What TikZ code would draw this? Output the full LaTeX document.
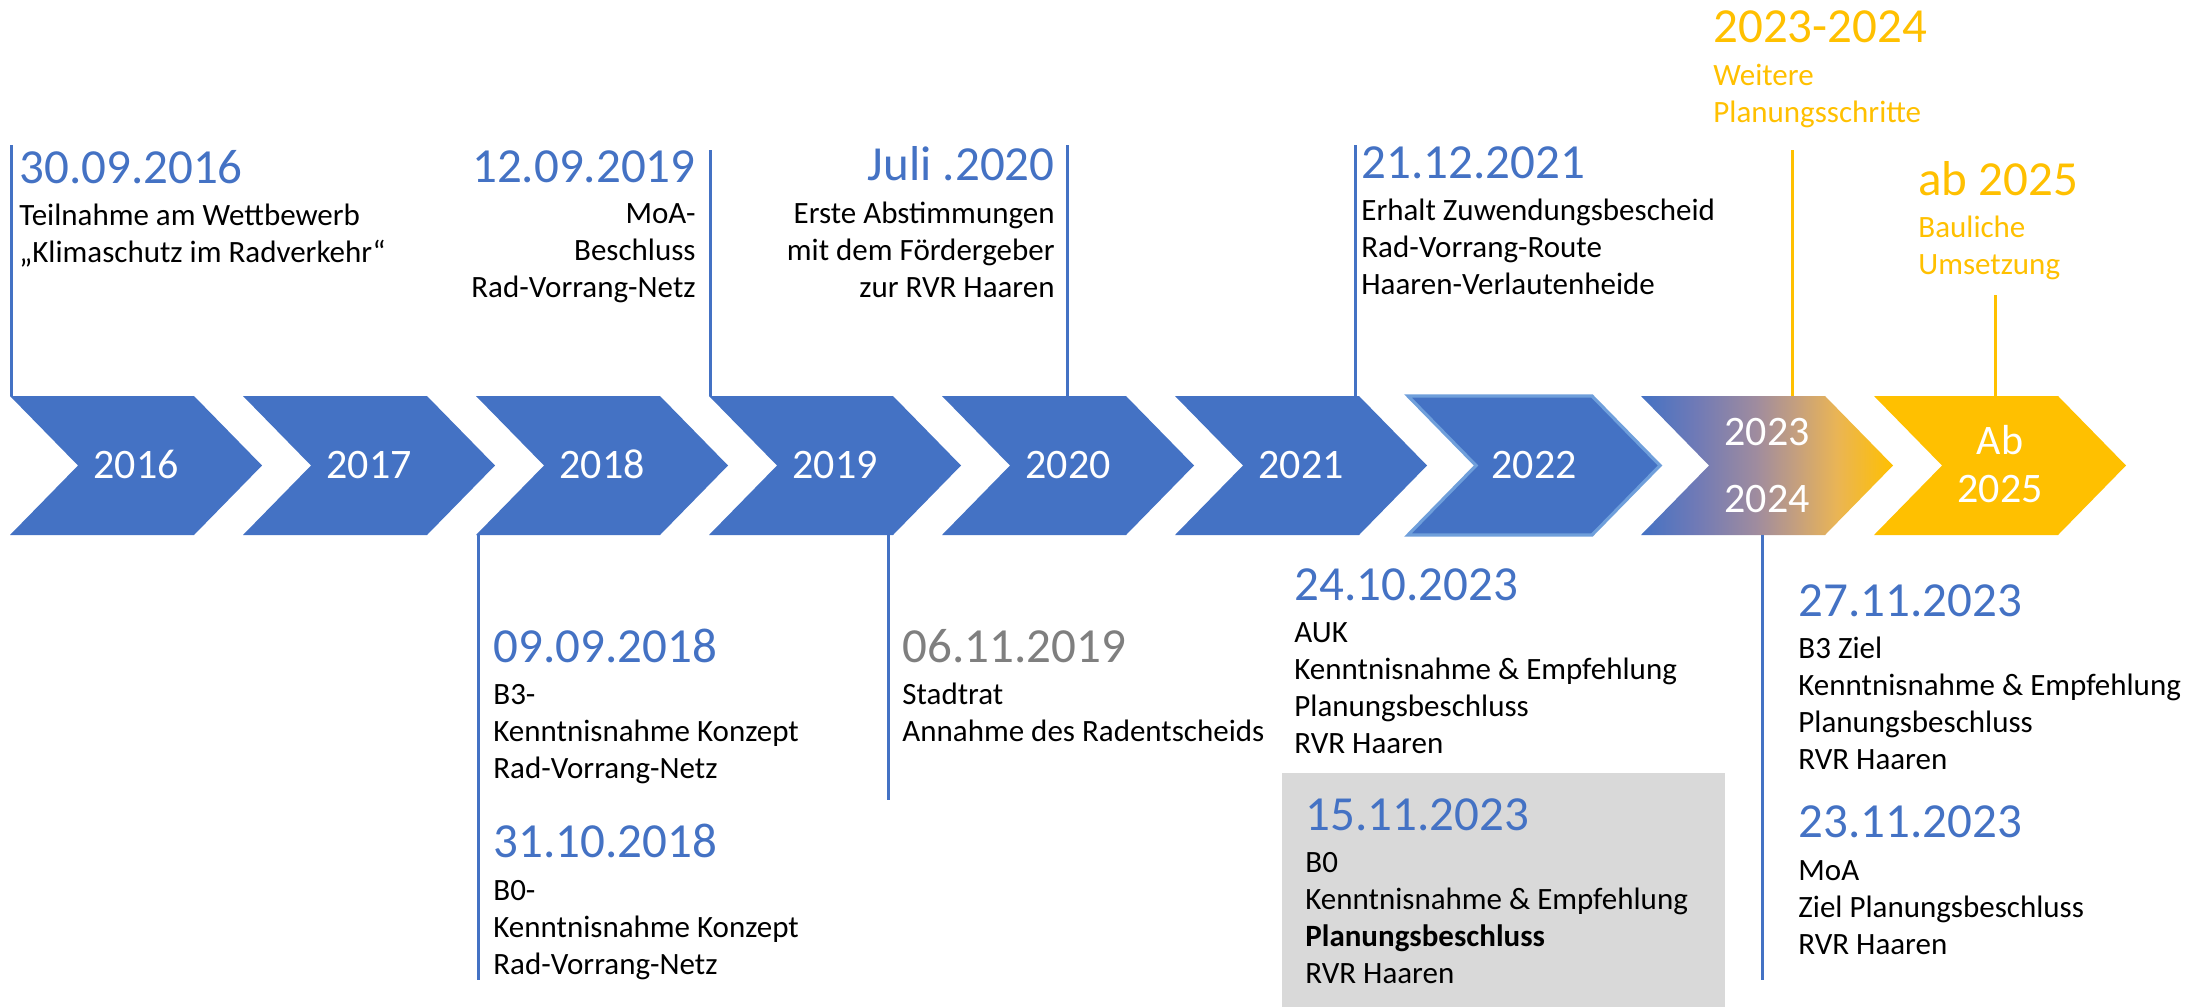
\documentclass[tikz,border=0pt]{standalone}
\usepackage{fontspec}
\setmainfont{Carlito}
\definecolor{tlblue}{HTML}{4472C4}
\definecolor{tlgold}{HTML}{FFC000}
\definecolor{tlgray}{HTML}{7F7F7F}
\definecolor{tlbox}{HTML}{D9D9D9}
\definecolor{tlborder}{HTML}{6F9FDB}
\definecolor{tlgA}{RGB}{112,122,182}
\definecolor{tlgB}{RGB}{160,140,158}
\definecolor{tlgC}{RGB}{198,160,125}
\definecolor{tlgD}{RGB}{234,181,84}
\pgfdeclarehorizontalshading{tlgrad}{100bp}{color(0bp)=(tlblue); color(25bp)=(tlblue); color(36bp)=(tlgA); color(48bp)=(tlgB); color(56bp)=(tlgC); color(64bp)=(tlgD); color(75bp)=(tlgold); color(100bp)=(tlgold)}
\newcommand\tlL[1]{\vtop{\baselineskip=18.5pt\lineskip=0pt\lineskiplimit=-100pt\halign{##\hfil\cr#1\crcr}}}
\newcommand\tlR[1]{\vtop{\baselineskip=18.5pt\lineskip=0pt\lineskiplimit=-100pt\halign{\hfil##\cr#1\crcr}}}
\newcommand\tlchevron[2]{\path[#2] (#1,396) -- ++(184,0) -- ++(68,69.5) -- ++(-68,69.5) -- ++(-184,0) -- ++(68,-69.5) -- cycle;}
\tikzset{
  datetext/.style={inner sep=0pt, font=\fontsize{24.5}{29}\selectfont, text=tlblue},
  bodytext/.style={inner sep=0pt, font=\fontsize{15.5}{18.5}\selectfont, text=black},
  yeartext/.style={inner sep=0pt, font=\fontsize{21}{25}\selectfont, text=white, anchor=base},
  vline/.style={line width=1.5pt, draw=tlblue},
  gline/.style={line width=1.5pt, draw=tlgold},
}
\begin{document}
\begin{tikzpicture}[x=0.5pt,y=-0.5pt]
\useasboundingbox (0,0) rectangle (2185,1007);
\fill[white] (0,0) rectangle (2185,1007);
% highlighted box
\fill[tlbox] (1282,773) rectangle (1725,1007);
% chevrons
\foreach \lx in {10,243,476,709,942,1175} {\tlchevron{\lx}{fill=tlblue}}
\tlchevron{1408}{fill=tlblue, draw=tlborder, line width=1.6pt, line join=miter}
\tlchevron{1641}{shading=tlgrad}
\tlchevron{1874}{fill=tlgold}
% year labels
\node[yeartext] (y2016) at (136,478) {2016};
\node[yeartext] (y2017) at (369,478) {2017};
\node[yeartext] (y2018) at (602,478) {2018};
\node[yeartext] (y2019) at (835,478) {2019};
\node[yeartext] (y2020) at (1068,478) {2020};
\node[yeartext] (y2021) at (1301,478) {2021};
\node[yeartext] (y2022) at (1534,478) {2022};
\node[yeartext] (y2023) at (1767,445) {2023};
\node[yeartext] (y2024) at (1767,512) {2024};
\node[yeartext] (yab) at (2000,454) {Ab};
\node[yeartext] (y2025) at (2000,502) {2025};
% connector end points
\coordinate (t1) at (11,145);  \coordinate (c1) at (11,396);
\coordinate (t2) at (710,150); \coordinate (c2) at (710,396);
\coordinate (t3) at (1067,145); \coordinate (c3) at (1067,396);
\coordinate (t4) at (1355,145); \coordinate (c4) at (1355,396);
\coordinate (t5) at (1792,150); \coordinate (c5) at (1792,396);
\coordinate (t6) at (1995,295); \coordinate (c6) at (1995,396);
\coordinate (u1) at (478,535); \coordinate (e1) at (478,980);
\coordinate (u2) at (888,535); \coordinate (e2) at (888,800);
\coordinate (u3) at (1762,535); \coordinate (e3) at (1762,980);
\draw[vline] (t1) -- (c1);
\draw[vline] (t2) -- (c2);
\draw[vline] (t3) -- (c3);
\draw[vline] (t4) -- (c4);
\draw[gline] (t5) -- (c5);
\draw[gline] (t6) -- (c6);
\draw[vline] (u1) -- (e1);
\draw[vline] (u2) -- (e2);
\draw[vline] (u3) -- (e3);
% top events
\node[datetext, anchor=base west] (d1) at (19,183) {30.09.2016};
\node[bodytext, anchor=base west] (b1) at (19,225) {\tlL{Teilnahme am Wettbewerb\cr „Klimaschutz im Radverkehr“}};
\node[datetext, anchor=base east] (d2) at (696,182) {12.09.2019};
\node[bodytext, anchor=base east] (b2) at (696,223) {\tlR{MoA-\cr Beschluss\cr Rad-Vorrang-Netz}};
\node[datetext, anchor=base east] (d3) at (1055,180) {Juli .2020};
\node[bodytext, anchor=base east] (b3) at (1055,223) {\tlR{Erste Abstimmungen\cr mit dem Fördergeber\cr zur RVR Haaren}};
\node[datetext, anchor=base west] (d4) at (1361,178) {21.12.2021};
\node[bodytext, anchor=base west] (b4) at (1361,220) {\tlL{Erhalt Zuwendungsbescheid\cr Rad-Vorrang-Route\cr Haaren-Verlautenheide}};
\node[datetext, text=tlgold, anchor=base west] (d5) at (1713,42) {2023-2024};
\node[bodytext, text=tlgold, anchor=base west] (b5) at (1713,85) {\tlL{Weitere\cr Planungsschritte}};
\node[datetext, text=tlgold, anchor=base west] (d6) at (1918,195) {ab 2025};
\node[bodytext, text=tlgold, anchor=base west] (b6) at (1918,237) {\tlL{Bauliche\cr Umsetzung}};
% bottom events
\node[datetext, anchor=base west] (d7) at (493,662) {09.09.2018};
\node[bodytext, anchor=base west] (b7) at (493,704) {\tlL{B3-\cr Kenntnisnahme Konzept\cr Rad-Vorrang-Netz}};
\node[datetext, anchor=base west] (d8) at (493,857) {31.10.2018};
\node[bodytext, anchor=base west] (b8) at (493,900) {\tlL{B0-\cr Kenntnisnahme Konzept\cr Rad-Vorrang-Netz}};
\node[datetext, text=tlgray, anchor=base west] (d9) at (902,662) {06.11.2019};
\node[bodytext, anchor=base west] (b9) at (902,704) {\tlL{Stadtrat\cr Annahme des Radentscheids}};
\node[datetext, anchor=base west] (d10) at (1294,600) {24.10.2023};
\node[bodytext, anchor=base west] (b10) at (1294,642) {\tlL{AUK\cr Kenntnisnahme \& Empfehlung\cr Planungsbeschluss\cr RVR Haaren}};
\node[datetext, anchor=base west] (d11) at (1305,830) {15.11.2023};
\node[bodytext, anchor=base west] (b11) at (1305,872) {\tlL{B0\cr Kenntnisnahme \& Empfehlung\cr \textbf{Planungsbeschluss}\cr RVR Haaren}};
\node[datetext, anchor=base west] (d12) at (1798,616) {27.11.2023};
\node[bodytext, anchor=base west] (b12) at (1798,658) {\tlL{B3 Ziel\cr Kenntnisnahme \& Empfehlung\cr Planungsbeschluss\cr RVR Haaren}};
\node[datetext, anchor=base west] (d13) at (1798,837) {23.11.2023};
\node[bodytext, anchor=base west] (b13) at (1798,880) {\tlL{MoA\cr Ziel Planungsbeschluss\cr RVR Haaren}};
\end{tikzpicture}
\end{document}
